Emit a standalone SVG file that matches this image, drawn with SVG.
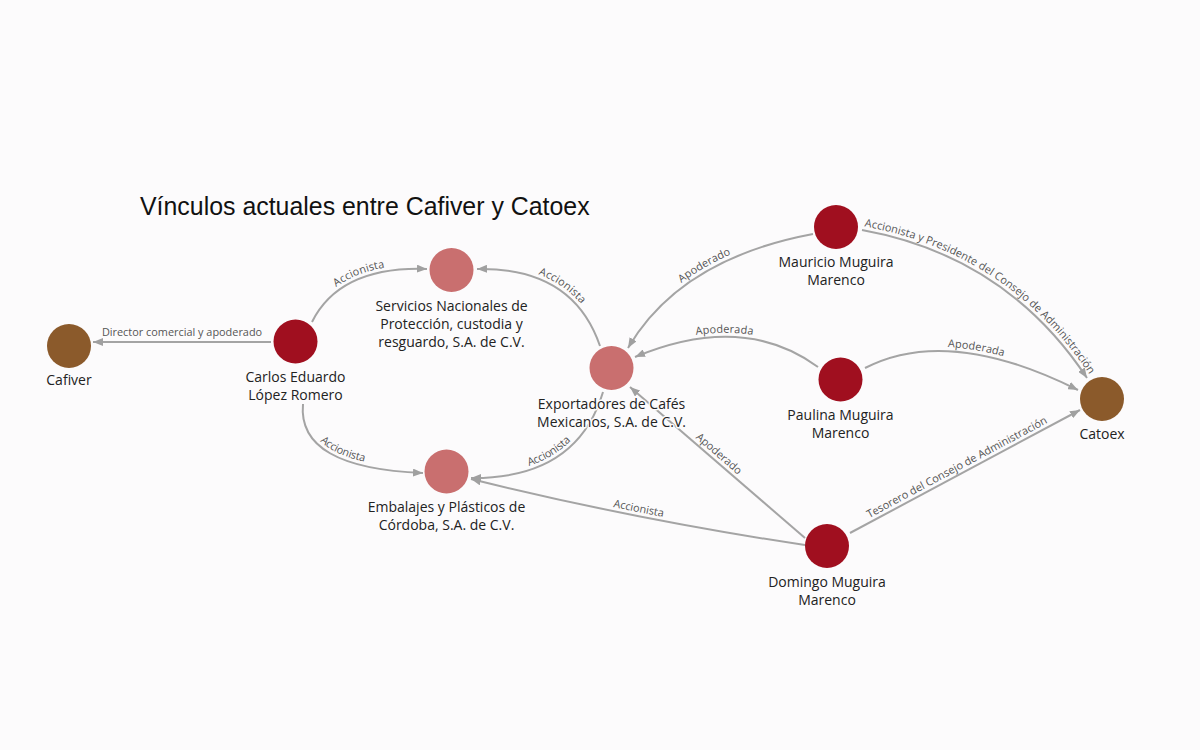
<svg xmlns="http://www.w3.org/2000/svg" xmlns:xlink="http://www.w3.org/1999/xlink" width="1200" height="750" viewBox="0 0 1200 750">
<style>
.edge{fill:none;stroke:#a4a4a4;stroke-width:2}
.elab{font-family:"Open Sans","Noto Sans","DejaVu Sans",sans-serif;font-size:10.9px;fill:#555}
.nlab{font-family:"Open Sans","Noto Sans","DejaVu Sans",sans-serif;font-size:14px;fill:#222;text-anchor:middle;stroke:#fcfbfc;stroke-width:3;paint-order:stroke;stroke-linejoin:round}
.brown{fill:#8b5a2b}
.dark{fill:#a00f1f}
.light{fill:#c96f6f}
.title{font-family:"Liberation Sans",Arial,sans-serif;font-size:24.9px;fill:#111}
</style>
<defs>
<marker id="arr" viewBox="0 0 10 8" refX="10" refY="4" markerWidth="10" markerHeight="8" markerUnits="userSpaceOnUse" orient="auto">
<path d="M0,0 L10,4 L0,8 z" fill="#a0a0a0"/>
</marker>
<path id="l2" d="M 312 322 Q 340 266 427 269"/>
<path id="l3" d="M 303 404 Q 297 468 423 473"/>
<path id="l4" d="M 477 269 Q 573 267 600 346"/>
<path id="l5" d="M 471 478 Q 577 479 603 392"/>
<path id="l6" d="M 628 348 Q 680 259 813 234"/>
<path id="l7" d="M 635 357 Q 743 312 818 367"/>
<path id="l8" d="M 630 387 L 805 538"/>
<path id="l9" d="M 471 479 Q 637 520 805 545"/>
<path id="l10" d="M 862 230 Q 1006 256 1087 378"/>
<path id="l11" d="M 865 368 Q 948 325 1078 390"/>
<path id="l12" d="M 850 533 L 1080 410"/>
</defs>
<rect width="1200" height="750" fill="#fcfbfc"/>
<text class="title" x="140" y="215">Vínculos actuales entre Cafiver y Catoex</text>
<g id="connectors">
<path class="edge" marker-end="url(#arr)" d="M 271 342 L 93 342"/>
<path class="edge" marker-end="url(#arr)" d="M 312 322 Q 340 266 427 269"/>
<path class="edge" marker-end="url(#arr)" d="M 303 404 Q 297 468 423 473"/>
<path class="edge" marker-end="url(#arr)" d="M 600 346 Q 573 267 477 269"/>
<path class="edge" marker-end="url(#arr)" d="M 603 392 Q 577 479 471 478"/>
<path class="edge" marker-end="url(#arr)" d="M 813 234 Q 680 259 628 348"/>
<path class="edge" marker-end="url(#arr)" d="M 818 367 Q 743 312 635 357"/>
<path class="edge" marker-end="url(#arr)" d="M 805 538 L 630 387"/>
<path class="edge" marker-end="url(#arr)" d="M 805 545 Q 637 520 471 479"/>
<path class="edge" marker-end="url(#arr)" d="M 862 230 Q 1006 256 1087 378"/>
<path class="edge" marker-end="url(#arr)" d="M 865 368 Q 948 325 1078 390"/>
<path class="edge" marker-end="url(#arr)" d="M 850 533 L 1080 410"/>
<text class="elab" x="182" y="336" text-anchor="middle">Director comercial y apoderado</text>
<text class="elab" dy="-4"><textPath href="#l2" xlink:href="#l2" startOffset="50%" text-anchor="middle">Accionista</textPath></text>
<text class="elab" dy="-4"><textPath href="#l3" xlink:href="#l3" startOffset="45%" text-anchor="middle">Accionista</textPath></text>
<text class="elab" dy="-4"><textPath href="#l4" xlink:href="#l4" startOffset="55%" text-anchor="middle">Accionista</textPath></text>
<text class="elab" dy="-4"><textPath href="#l5" xlink:href="#l5" startOffset="50%" text-anchor="middle">Accionista</textPath></text>
<text class="elab" dy="-4"><textPath href="#l6" xlink:href="#l6" startOffset="50%" text-anchor="middle">Apoderado</textPath></text>
<text class="elab" dy="-4"><textPath href="#l7" xlink:href="#l7" startOffset="48%" text-anchor="middle">Apoderada</textPath></text>
<text class="elab" dy="-4"><textPath href="#l8" xlink:href="#l8" startOffset="48%" text-anchor="middle">Apoderado</textPath></text>
<text class="elab" dy="-4"><textPath href="#l9" xlink:href="#l9" startOffset="50%" text-anchor="middle">Accionista</textPath></text>
<text class="elab" dy="-4"><textPath href="#l10" xlink:href="#l10" startOffset="50%" text-anchor="middle">Accionista y Presidente del Consejo de Administración</textPath></text>
<text class="elab" dy="-4"><textPath href="#l11" xlink:href="#l11" startOffset="51%" text-anchor="middle">Apoderada</textPath></text>
<text class="elab" dy="-4"><textPath href="#l12" xlink:href="#l12" startOffset="48%" text-anchor="middle">Tesorero del Consejo de Administración</textPath></text>
</g>
<g id="cafiver"><circle class="brown" cx="69" cy="346" r="22"/><text class="nlab" x="69" y="385">Cafiver</text></g>
<g id="carlos"><circle class="dark" cx="295.5" cy="341.5" r="22"/><text class="nlab" x="295.5" y="382">Carlos Eduardo</text><text class="nlab" x="295.5" y="400">López Romero</text></g>
<g id="servicios"><circle class="light" cx="451.5" cy="270" r="22"/><text class="nlab" x="451.5" y="311">Servicios Nacionales de</text><text class="nlab" x="451.5" y="329">Protección, custodia y</text><text class="nlab" x="451.5" y="347">resguardo, S.A. de C.V.</text></g>
<g id="exportadores"><circle class="light" cx="611.5" cy="368" r="22"/><text class="nlab" x="611.5" y="409">Exportadores de Cafés</text><text class="nlab" x="611.5" y="427">Mexicanos, S.A. de C.V.</text></g>
<g id="embalajes"><circle class="light" cx="446.5" cy="471.5" r="22"/><text class="nlab" x="446.5" y="512">Embalajes y Plásticos de</text><text class="nlab" x="446.5" y="530">Córdoba, S.A. de C.V.</text></g>
<g id="mauricio"><circle class="dark" cx="836" cy="227" r="22"/><text class="nlab" x="836" y="267">Mauricio Muguira</text><text class="nlab" x="836" y="285">Marenco</text></g>
<g id="paulina"><circle class="dark" cx="840.5" cy="379.5" r="22"/><text class="nlab" x="840.5" y="420">Paulina Muguira</text><text class="nlab" x="840.5" y="438">Marenco</text></g>
<g id="domingo"><circle class="dark" cx="827" cy="546" r="22"/><text class="nlab" x="827" y="587">Domingo Muguira</text><text class="nlab" x="827" y="605">Marenco</text></g>
<g id="catoex"><circle class="brown" cx="1102" cy="399" r="22"/><text class="nlab" x="1102" y="439">Catoex</text></g>
</svg>
